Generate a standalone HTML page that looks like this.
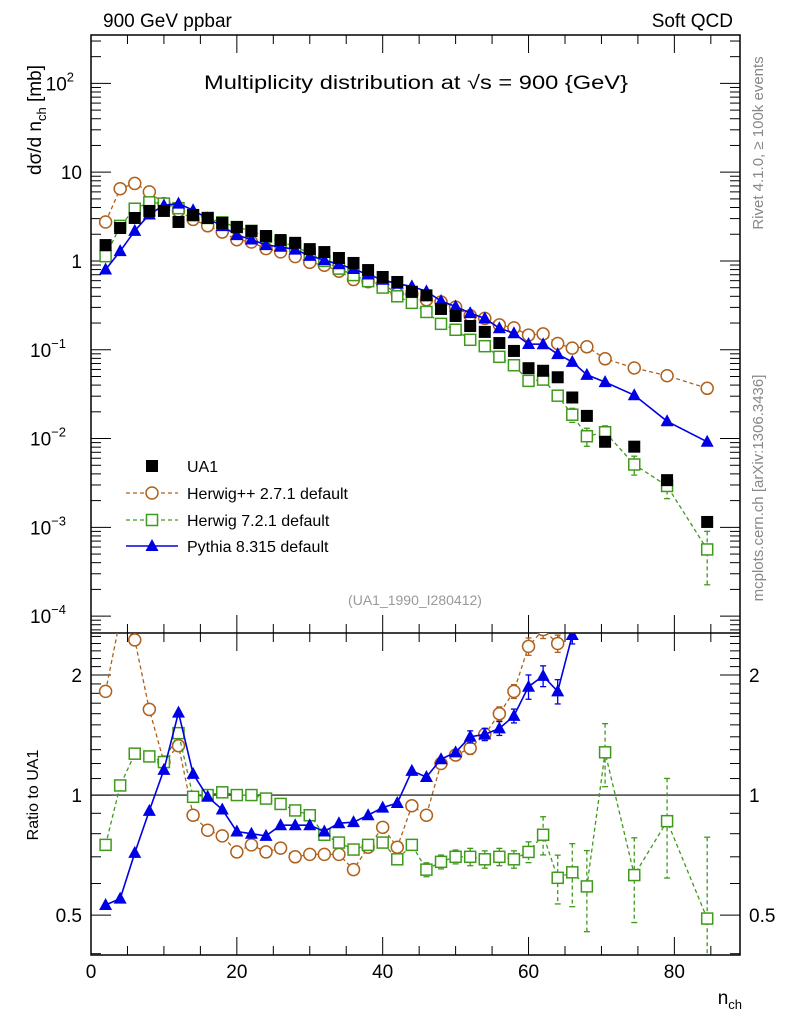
<!DOCTYPE html>
<html><head><meta charset="utf-8"><style>
html,body{margin:0;padding:0;background:#fff;width:786px;height:1024px;overflow:hidden}
svg{display:block;font-family:"Liberation Sans",sans-serif}
</style></head><body>
<svg id="chart" width="786" height="1024" viewBox="0 0 786 1024" xmlns="http://www.w3.org/2000/svg">
<text x="103" y="27" font-size="19">900 GeV ppbar</text>
<text x="733" y="27" font-size="19" text-anchor="end">Soft QCD</text>
<text x="416" y="89" font-size="19" text-anchor="middle" textLength="424" lengthAdjust="spacingAndGlyphs">Multiplicity distribution at √s = 900 {GeV}</text>
<text transform="translate(41,120) rotate(-90)" font-size="19" text-anchor="middle">dσ/d n<tspan font-size="13" dy="5">ch</tspan><tspan dy="-5"> [mb]</tspan></text>
<text transform="translate(763,143) rotate(-90)" font-size="15" fill="#888" text-anchor="middle">Rivet 4.1.0, ≥ 100k events</text>
<text transform="translate(763,488) rotate(-90)" font-size="15" fill="#888" text-anchor="middle">mcplots.cern.ch [arXiv:1306.3436]</text>
<text x="415" y="605" font-size="14" fill="#999" text-anchor="middle">(UA1_1990_I280412)</text>
<text transform="translate(38,795) rotate(-90)" font-size="16" text-anchor="middle">Ratio to UA1</text>
<text x="742" y="1004" font-size="19" text-anchor="end">n<tspan font-size="13" dy="5">ch</tspan></text>
<g id="legend">
  <g>
    <rect x="146" y="460" width="12" height="12" fill="#000"/>
    <text x="187" y="472" font-size="16">UA1</text>
  </g>
  <g>
    <line x1="126" y1="493" x2="178" y2="493" stroke="#b0601a" stroke-width="1.3" stroke-dasharray="4,3"/>
    <circle cx="152" cy="493" r="6" fill="#fff" stroke="#b0601a" stroke-width="1.5"/>
    <text x="187" y="499" font-size="16">Herwig++ 2.7.1 default</text>
  </g>
  <g>
    <line x1="126" y1="520" x2="178" y2="520" stroke="#3f9a1c" stroke-width="1.3" stroke-dasharray="4,3"/>
    <rect x="146.5" y="514.5" width="11" height="11" fill="#fff" stroke="#3f9a1c" stroke-width="1.5"/>
    <text x="187" y="526" font-size="16">Herwig 7.2.1 default</text>
  </g>
  <g>
    <line x1="126" y1="546" x2="178" y2="546" stroke="#0000e6" stroke-width="1.5"/>
    <path d="M152,539 L158.5,551 L145.5,551 Z" fill="#0000e6"/>
    <text x="187" y="552" font-size="16">Pythia 8.315 default</text>
  </g>
</g>
</svg>
<script>
const nch = [2,4,6,8,10,12,14,16,18,20,22,24,26,28,30,32,34,36,38,40,42,44,46,48,50,52,54,56,58,60,62,64,66,68,70.5,74.5,79,84.5];
const ua1 = [1.51,2.35,3.05,3.66,3.66,2.75,3.3,3.05,2.68,2.41,2.18,1.91,1.72,1.6,1.36,1.26,1.08,0.95,0.79,0.66,0.58,0.45,0.41,0.288,0.24,0.185,0.159,0.119,0.097,0.062,0.058,0.049,0.029,0.018,0.0092,0.0081,0.0034,0.00115];
const ratioHerwigpp = [1.82,2.77,2.45,1.64,1.21,1.33,0.89,0.816,0.79,0.72,0.75,0.72,0.736,0.70,0.71,0.71,0.71,0.65,0.74,0.83,0.74,0.94,0.89,1.20,1.26,1.31,1.42,1.60,1.82,2.36,2.6,2.40,3.6,6.0,8.6,7.7,15,32];
const ratioHerwig7 = [0.75,1.057,1.27,1.25,1.21,1.43,0.99,1.0,1.016,1.0,1.0,0.98,0.95,0.915,0.89,0.795,0.76,0.73,0.75,0.76,0.69,0.75,0.65,0.68,0.70,0.70,0.69,0.70,0.69,0.72,0.795,0.62,0.64,0.59,1.28,0.63,0.86,0.49];
const ratioPythia = [0.53,0.55,0.716,0.913,1.157,1.61,1.13,0.99,0.92,0.81,0.80,0.79,0.84,0.84,0.84,0.81,0.85,0.855,0.89,0.93,0.955,1.15,1.11,1.23,1.28,1.40,1.42,1.47,1.58,1.87,1.99,1.82,2.52,2.9,4.7,3.8,4.6,8.0];
const errHerwigpp = [0.01,0.01,0.01,0.01,0.01,0.01,0.01,0.01,0.01,0.01,0.01,0.01,0.01,0.01,0.01,0.01,0.015,0.02,0.02,0.02,0.03,0.03,0.03,0.03,0.03,0.035,0.035,0.04,0.04,0.05,0.05,0.05,0.05,0.05,0.05,0.06,0.06,0.07];
const errHerwig7 = [0.01,0.01,0.01,0.01,0.01,0.01,0.01,0.01,0.01,0.01,0.01,0.01,0.01,0.015,0.015,0.02,0.02,0.02,0.02,0.03,0.03,0.03,0.04,0.04,0.04,0.05,0.05,0.05,0.05,0.06,0.11,0.14,0.18,0.23,0.18,0.24,0.28,0.6];
const errPythia = [0.01,0.01,0.01,0.01,0.01,0.01,0.01,0.01,0.01,0.01,0.01,0.01,0.01,0.01,0.01,0.01,0.015,0.015,0.02,0.02,0.02,0.03,0.03,0.03,0.03,0.035,0.035,0.04,0.04,0.07,0.06,0.07,0.05,0.05,0.05,0.05,0.06,0.07];
const xTicks = [0,20,40,60,80];
const yTickExp = [2,1,0,-1,-2,-3,-4];
const yTickLabels = ["10","10","1","10","10","10","10"];
const yTickSup = ["2","","","−1","−2","−3","−4"];
const ratioTicks = [2,1,0.5];
const ratioLabels = ["2","1","0.5"];

const NS="http://www.w3.org/2000/svg";
const svg=document.getElementById('chart');
const L=91,R=740,T=35,M=633,B=955;
const xMin=0,xMax=89;
const X=v=>L+(v-xMin)/(xMax-xMin)*(R-L);
const yTop=2.545,yBot=-4.19;
const Y=v=>T+(yTop-Math.log10(v))/(yTop-yBot)*(M-T);
const rTop=Math.log10(2.55),rBot=Math.log10(0.397);
const YR=v=>M+(rTop-Math.log10(v))/(rTop-rBot)*(B-M);

function mk(tag,attrs,parent){const e=document.createElementNS(NS,tag);for(const k in attrs)e.setAttribute(k,attrs[k]);(parent||svg).appendChild(e);return e;}

const defs=mk('defs',{});
const c1=mk('clipPath',{id:'clipTop'},defs);mk('rect',{x:L,y:T,width:R-L,height:M-T},c1);
const c2=mk('clipPath',{id:'clipBot'},defs);mk('rect',{x:L,y:M,width:R-L,height:B-M},c2);

const ax=mk('g',{});


const frame=mk('rect',{x:L,y:T,width:R-L,height:B-T,fill:'none',stroke:'#000','stroke-width':1.5},ax);


const sep=mk('line',{x1:L,y1:M,x2:R,y2:M,stroke:'#000','stroke-width':1.5},ax);


const one=mk('line',{x1:L,y1:YR(1),x2:R,y2:YR(1),stroke:'#000','stroke-width':1.2},ax);



for(let v=0;v<=xMax;v+=5){
  const major=v%20===0, len=major?18:9, x=X(v);
  [[T,1],[M,-1],[M,1],[B,-1]].forEach(([y0,d])=>mk('line',{x1:x,y1:y0,x2:x,y2:y0+d*len,stroke:'#000','stroke-width':1},ax));
}
xTicks.forEach(v=>{
  const t=mk('text',{x:X(v),y:978,'font-size':19,'text-anchor':'middle'},ax);
  t.textContent=v;
  
  
});
for(let e=-5;e<=2;e++){
  for(let m=1;m<10;m++){
    const v=m*Math.pow(10,e), lv=Math.log10(v);
    if(lv>yTop||lv<yBot)continue;
    const y=Y(v), len=m===1?20:10;
    mk('line',{x1:L,y1:y,x2:L+len,y2:y,stroke:'#000','stroke-width':1},ax);
    mk('line',{x1:R,y1:y,x2:R-len,y2:y,stroke:'#000','stroke-width':1},ax);
  }
}
yTickExp.forEach((e,i)=>{
  const t=mk('text',{x:yTickSup[i]?82-yTickSup[i].length*8:82,y:Y(Math.pow(10,e))+7,'font-size':19,'text-anchor':'end'},ax);
  t.textContent=yTickLabels[i];
  if(yTickSup[i]){const s=mk('tspan',{'font-size':13,dy:-9},t);s.textContent=yTickSup[i];}
  
  
});
for(let v=0.4;v<=2.55;v+=0.1){
  const vv=Math.round(v*10)/10; if(vv<0.4)continue;
  const major=(vv===0.5||vv===1||vv===2), len=major?20:10, y=YR(vv);
  mk('line',{x1:L,y1:y,x2:L+len,y2:y,stroke:'#000','stroke-width':1},ax);
  mk('line',{x1:R,y1:y,x2:R-len,y2:y,stroke:'#000','stroke-width':1},ax);
}
ratioTicks.forEach((v,i)=>{
  const t=mk('text',{x:82,y:YR(v)+7,'font-size':19,'text-anchor':'end'},ax);
  t.textContent=ratioLabels[i];
  
  
  const t2=mk('text',{x:749,y:YR(v)+7,'font-size':19,'text-anchor':'start'},ax);
  t2.textContent=ratioLabels[i];
  
  
});

function marker(g,type,x,y,col){
  if(type==='circle') return mk('circle',{cx:x,cy:y,r:6,fill:'#fff',stroke:col,'stroke-width':1.5},g);
  if(type==='square') return mk('rect',{x:x-5.5,y:y-5.5,width:11,height:11,fill:'#fff',stroke:col,'stroke-width':1.5},g);
  if(type==='tri') return mk('path',{d:`M${x},${y-7} L${x+6.5},${y+5} L${x-6.5},${y+5} Z`,fill:col},g);
}
function series(name,ratio,err,col,type,dash,width){
  [['top',true],['ratio',false]].forEach(([panel,isTop])=>{
    const g=mk('g',{'clip-path':isTop?'url(#clipTop)':'url(#clipBot)'});
    
    
    const val=i=>isTop?ua1[i]*ratio[i]:ratio[i];
    const Yf=isTop?Y:YR;
    const pts=nch.map((n,i)=>X(n).toFixed(1)+','+Yf(val(i)).toFixed(1)).join(' ');
    const pl=mk('polyline',{points:pts,fill:'none',stroke:col,'stroke-width':width,'stroke-dasharray':dash||'none'},g);
    
    
    nch.forEach((n,i)=>{
      const v=val(i), lo=v*(1-err[i]), hi=v*(1+err[i]);
      const x=X(n), y1=Yf(hi), y2=Yf(Math.max(lo,1e-6));
      if(y2-y1>12){
        mk('line',{x1:x,y1:y1,x2:x,y2:y2,stroke:col,'stroke-width':1.3,'stroke-dasharray':dash||'none'},g);
        mk('line',{x1:x-3,y1:y1,x2:x+3,y2:y1,stroke:col,'stroke-width':1.3},g);
        mk('line',{x1:x-3,y1:y2,x2:x+3,y2:y2,stroke:col,'stroke-width':1.3},g);
      }
      const m=marker(g,type,x,Yf(v),col);
      
      
    });
  });
}
series('herwigpp',ratioHerwigpp,errHerwigpp,'#b0601a','circle','4,3',1.3);
series('herwig7',ratioHerwig7,errHerwig7,'#3f9a1c','square','4,3',1.3);
series('pythia',ratioPythia,errPythia,'#0000e6','tri',null,1.6);
const gd=mk('g',{'clip-path':'url(#clipTop)'});


nch.forEach((n,i)=>{
  const r=mk('rect',{x:X(n)-6,y:Y(ua1[i])-6,width:12,height:12,fill:'#000'},gd);
  
  
});
svg.appendChild(document.getElementById('legend'));
</script>
</body></html>
